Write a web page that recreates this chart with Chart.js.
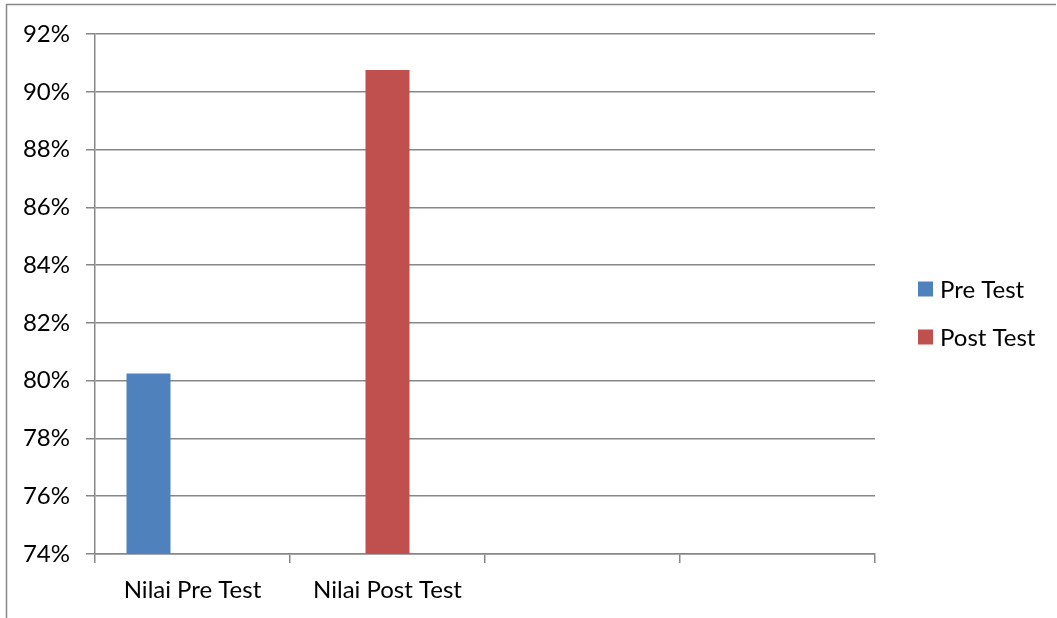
<!DOCTYPE html>
<html>
<head>
<meta charset="utf-8">
<script src="https://cdn.jsdelivr.net/npm/chart.js@4.4.1/dist/chart.umd.min.js"></script>
<style>
  html, body { margin: 0; padding: 0; background: #fff; }
  #wrap { position: relative; width: 1057px; height: 618px; }
</style>
</head>
<body>
<div id="wrap"><canvas id="chart" width="1057" height="618"></canvas></div>
<script>
// categories and values (percent)
const categories = ['Nilai Pre Test', 'Nilai Post Test', '', ''];
const preTest = [80.25, null, null, null];
const postTest = [null, 90.75, null, null];
const emptySeries = [null, null, null, null]; // third, unnamed series in the original sheet
const yMin = 74, yMax = 92, yStep = 2;

const lineColor = '#878787';
const fontFamily = 'Lato, "Open Sans", sans-serif';
const fontSize = 24;

// frame round the whole chart + legend on the right
const framePlugin = {
  id: 'frame',
  beforeDraw(chart) {
    const ctx = chart.ctx;
    ctx.save();
    ctx.strokeStyle = lineColor;
    ctx.lineWidth = 1.5;
    ctx.beginPath();
    ctx.moveTo(6.5, 640);
    ctx.lineTo(6.5, 4.5);
    ctx.lineTo(1056, 4.5);
    ctx.stroke();
    ctx.restore();
  },
  afterDraw(chart) {
    const ctx = chart.ctx;
    ctx.save();
    ctx.font = fontSize + 'px ' + fontFamily;
    ctx.textBaseline = 'middle';
    ctx.fillStyle = '#000';
    let y = 289;
    chart.data.datasets.forEach(ds => {
      if (!ds.label) return;
      ctx.fillStyle = ds.backgroundColor;
      ctx.fillRect(918, y - 7.5, 15, 15);
      ctx.fillStyle = '#000';
      ctx.fillText(ds.label, 940, y + 1);
      y += 48;
    });
    ctx.restore();
  }
};

const ctx = document.getElementById('chart').getContext('2d');
new Chart(ctx, {
  type: 'bar',
  data: {
    labels: categories,
    datasets: [
      { label: 'Pre Test', data: preTest, backgroundColor: '#4F81BD' },
      { label: 'Post Test', data: postTest, backgroundColor: '#C0504D' },
      { label: '', data: emptySeries, backgroundColor: '#9BBB59' }
    ]
  },
  options: {
    responsive: false,
    animation: false,
    devicePixelRatio: 1,
    layout: { padding: { left: 0, top: 34, right: 182, bottom: 0 } },
    datasets: {
      bar: { categoryPercentage: 0.677, barPercentage: 1.0 }
    },
    plugins: {
      legend: { display: false },
      tooltip: { enabled: false }
    },
    scales: {
      x: {
        offset: true,
        grid: {
          offset: true,
          drawOnChartArea: false,
          drawTicks: true,
          tickLength: 9,
          color: lineColor,
          lineWidth: 1.5
        },
        border: { color: lineColor, width: 1.5 },
        ticks: {
          color: '#000',
          padding: 13,
          font: { family: fontFamily, size: fontSize },
          callback: function (v) { return this.getLabelForValue(v); }
        },
        afterFit(scale) { scale.height = 64; }
      },
      y: {
        min: yMin,
        max: yMax,
        grid: {
          color: lineColor,
          lineWidth: 1.5,
          tickLength: 9
        },
        border: { color: lineColor, width: 1.5 },
        ticks: {
          stepSize: yStep,
          color: '#000',
          padding: 16,
          font: { family: fontFamily, size: fontSize },
          callback: v => v + '%'
        },
        afterFit(scale) { scale.width = 95; }
      }
    }
  },
  plugins: [framePlugin]
});
</script>
</body>
</html>
